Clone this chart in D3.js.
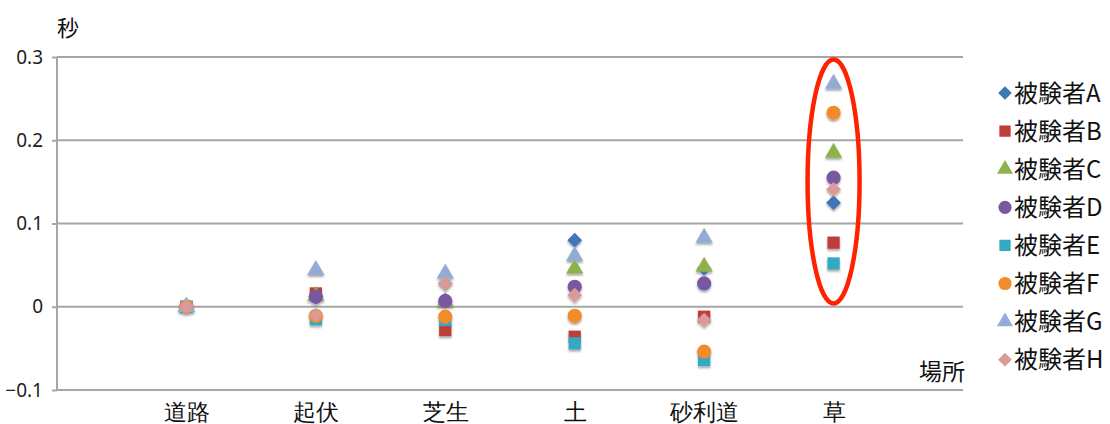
<!DOCTYPE html>
<html>
<head>
<meta charset="utf-8">
<script src="https://cdn.jsdelivr.net/npm/d3@7"></script>
<style>
  html, body { margin: 0; padding: 0; background: #fff; }
  svg { display: block; font-family: "Noto Sans CJK JP", "Noto Sans", sans-serif; }
</style>
</head>
<body>
<svg id="chart" width="1110" height="424"></svg>
<script>
// Surfaces (x categories)
const places = ["道路", "起伏", "芝生", "土", "砂利道", "草"];
// Subjects (series)
const subjects = ["被験者A", "被験者B", "被験者C", "被験者D", "被験者E", "被験者F", "被験者G", "被験者H"];
// Time difference in seconds, one value per surface
const subjA = [0, 0.012, 0.028, 0.080, 0.046, 0.125];
const subjB = [0, 0.016, -0.028, -0.036, -0.012, 0.077];
const subjC = [0, 0.013, 0.006, 0.046, 0.048, 0.185];
const subjD = [0, 0.012, 0.007, 0.024, 0.028, 0.155];
const subjE = [0, -0.015, -0.016, -0.044, -0.064, 0.052];
const subjF = [0, -0.011, -0.012, -0.011, -0.054, 0.233];
const subjG = [0, 0.044, 0.040, 0.061, 0.083, 0.268];
const subjH = [0, -0.010, 0.028, 0.014, -0.016, 0.141];
const yTicks = [-0.1, 0, 0.1, 0.2, 0.3];

const seriesValues = [subjA, subjB, subjC, subjD, subjE, subjF, subjG, subjH];
const colors = ["#3F76B8", "#BE3D3A", "#8EB24B", "#7859A0", "#34A9C3", "#F28C2B", "#92ACD6", "#DA9A98"];

// square turned 45 degrees (equal width and height)
const symbolRhombus = {
  draw(ctx, size) {
    const r = Math.sqrt(size / 2);
    ctx.moveTo(0, -r); ctx.lineTo(r, 0); ctx.lineTo(0, r); ctx.lineTo(-r, 0); ctx.closePath();
  }
};
const shapes = [symbolRhombus, d3.symbolSquare, d3.symbolTriangle, d3.symbolCircle,
                d3.symbolSquare, d3.symbolCircle, d3.symbolTriangle, symbolRhombus];
const sizes = [110, 150, 130, 160, 150, 160, 130, 110];

const svg = d3.select("#chart");
const x = d3.scaleLinear().domain([0, 7]).range([57, 963]);
const y = d3.scaleLinear().domain([-0.1, 0.3]).range([390, 57]);

// soft shadow under each marker
const defs = svg.append("defs");
const f = defs.append("filter").attr("id", "shadow").attr("x", "-50%").attr("y", "-50%").attr("width", "200%").attr("height", "200%");
f.append("feDropShadow").attr("dx", 0).attr("dy", 2).attr("stdDeviation", 1.2)
  .attr("flood-color", "#000").attr("flood-opacity", 0.35);

// y axis and horizontal gridlines
const yAxis = d3.axisLeft(y).tickValues(yTicks).tickSize(5).tickPadding(9)
  .tickFormat(d => d === 0 ? "0" : d3.format(".1f")(d));
const gy = svg.append("g").attr("transform", `translate(${x(0)},0)`).call(yAxis);
gy.select(".domain").attr("stroke", "#A6A6A6").attr("stroke-width", 2)
  .attr("d", `M0,${y(0.3)}V${y(-0.1)}`);
gy.selectAll(".tick line").attr("stroke", "#A6A6A6").attr("stroke-width", 2);
gy.selectAll(".tick text").attr("fill", "#222").style("font-size", "19px")
  .style("font-family", "'Noto Sans', sans-serif");

svg.append("g").selectAll("line").data(yTicks).join("line")
  .attr("x1", x(0)).attr("x2", x(7))
  .attr("y1", d => y(d)).attr("y2", d => y(d))
  .attr("stroke", "#A6A6A6").attr("stroke-width", 2);

// category labels
const xAxis = d3.axisBottom(x).tickValues(places.map((p, i) => i + 1))
  .tickFormat((d) => places[d - 1]).tickSize(0).tickPadding(14);
const gx = svg.append("g").attr("transform", `translate(0,${y(-0.1)})`).call(xAxis);
gx.select(".domain").remove();
gx.selectAll(".tick text").attr("fill", "#111").style("font-size", "23px");

// axis titles
svg.append("text").attr("x", 57).attr("y", 36).attr("fill", "#111")
  .style("font-size", "22px").text("秒");
svg.append("text").attr("x", 919).attr("y", 380).attr("fill", "#111")
  .style("font-size", "23px").text("場所");

// markers
const gm = svg.append("g").attr("filter", "url(#shadow)");
seriesValues.forEach((vals, s) => {
  gm.append("g").selectAll("path").data(vals).join("path")
    .attr("d", d3.symbol().type(shapes[s]).size(sizes[s]))
    .attr("transform", (d, i) => `translate(${x(i + 1)},${y(d)})`)
    .attr("fill", colors[s]);
});

// highlight ring around the 草 column
svg.append("ellipse")
  .attr("cx", x(6)).attr("cy", (y(0.297) + y(0.004)) / 2)
  .attr("rx", 26).attr("ry", (y(0.004) - y(0.297)) / 2)
  .attr("fill", "none").attr("stroke", "#FF2200").attr("stroke-width", 4.5);

// legend
const lg = svg.append("g");
subjects.forEach((name, s) => {
  const ly = 93 + s * 38.1;
  lg.append("path")
    .attr("d", d3.symbol().type(shapes[s]).size(sizes[s] * 0.85))
    .attr("transform", `translate(1005,${ly})`)
    .attr("fill", colors[s]);
  lg.append("text").attr("x", 1014).attr("y", ly).attr("dy", "0.36em")
    .attr("fill", "#111").style("font-size", "24px").text(name);
});
</script>
</body>
</html>
